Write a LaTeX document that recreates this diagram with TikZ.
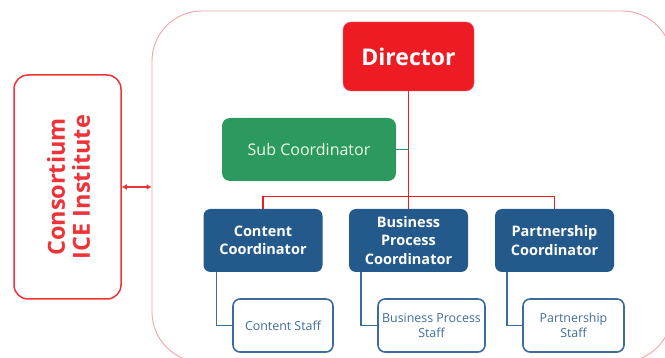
\documentclass[tikz,border=0pt]{standalone}
\usepackage{fontspec}
\setmainfont{Open Sans}
\usetikzlibrary{arrows.meta}
\definecolor{dred}{HTML}{ED1C24}
\definecolor{lred}{HTML}{F4A3A6}
\definecolor{cred}{HTML}{EE3338}
\definecolor{dgreen}{HTML}{2C9A5E}
\definecolor{dblue}{HTML}{245A8B}
\definecolor{sblue}{HTML}{3C6C9E}
\definecolor{stext}{HTML}{3F6E9E}
\tikzset{
  dirbox/.style={fill=dred, draw=dred!70!white, rounded corners=8pt, minimum width=131pt, minimum height=69pt, inner sep=0pt, text=white, font=\bfseries\fontsize{23}{27}\selectfont},
  subbox/.style={fill=dgreen, rounded corners=8pt, minimum width=174pt, minimum height=63pt, inner sep=0pt, text=white!92!green, font=\fontsize{16}{19}\selectfont},
  coordbox/.style={fill=dblue, rounded corners=7pt, minimum width=119pt, minimum height=63pt, inner sep=0pt, text=white, align=center, font=\bfseries\fontsize{14.5}{18.5}\selectfont},
  staffbox/.style={fill=white, draw=sblue, line width=1.6pt, rounded corners=7pt, minimum width=100pt, minimum height=53pt, inner sep=0pt, text=stext, align=center, font=\fontsize{12.4}{15.5}\selectfont},
  consbox/.style={draw=cred, line width=1.5pt, rounded corners=14pt, minimum width=107pt, minimum height=224pt, inner sep=0pt},
  bigbox/.style={draw=lred, line width=0.9pt, rounded corners=50pt, minimum width=520pt, minimum height=351pt, inner sep=0pt},
  redline/.style={draw=dred, line width=1.3pt},
  greenline/.style={draw=dgreen, line width=1.3pt},
  blueline/.style={draw=sblue, line width=1.6pt},
}
\begin{document}
\begin{tikzpicture}[x=1pt,y=-1pt]
\useasboundingbox (0,0) rectangle (665,358);
\node[bigbox] (big) at (412,186.5) {};
\node[consbox] (cons) at (67.5,187) {};
\node[rotate=90, text=cred, align=center, font=\bfseries\fontsize{23.5}{25}\selectfont, inner sep=0pt] (constext) at (68.5,187) {Consortium\\ICE Institute};
\draw[cred, line width=1.2pt, {Latex[length=5pt,width=6pt]}-{Latex[length=5pt,width=6pt]}] (cons.east) -- (cons.east -| big.west);

\node[dirbox] (dir) at (408.5,56.5) {Director};
\node[subbox] (sub) at (309,149.5) {Sub Coordinator};

\node[coordbox] (cc) at (263,240.5) {Content\\Coordinator};
\node[coordbox] (bpc) at (408.5,240.5) {Business\\Process\\Coordinator};
\node[coordbox] (pc) at (554.5,240.5) {Partnership\\Coordinator};

\node[staffbox] (cs) at (283,325.5) {Content Staff};
\node[staffbox, minimum width=107pt] (bps) at (431.5,325.5) {Business Process\\Staff};
\node[staffbox, minimum width=101pt] (ps) at (573.5,325.5) {Partnership\\Staff};

\draw[redline] (dir.south) -- (bpc.north);
\draw[redline] (cc.north) -- ++(0,-12) -| (pc.north);
\draw[greenline] (sub.east) -- (sub.east -| dir.south);

\draw[blueline] ([xshift=13pt]cc.south west) |- (cs.west);
\draw[blueline] ([xshift=12pt]bpc.south west) |- (bps.west);
\draw[blueline] ([xshift=12pt]pc.south west) |- (ps.west);
\end{tikzpicture}
\end{document}
